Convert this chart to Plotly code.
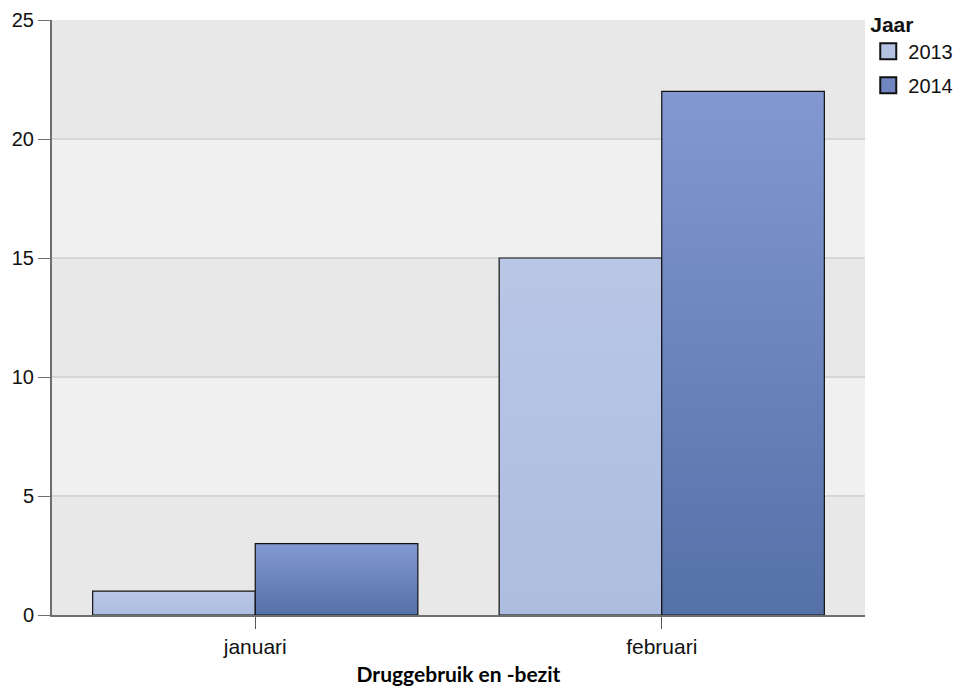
import plotly.graph_objects as go

categories = ["januari", "februari"]
years = ["2013", "2014"]
values_2013 = [1, 15]
values_2014 = [3, 22]
y_ticks = [0, 5, 10, 15, 20, 25]

series = {"2013": values_2013, "2014": values_2014}
grad = {
    "2013": ("#adbde0", "#b9c6e6", "#b3c1e3"),
    "2014": ("#5471a8", "#8398d1", "#6f86c0"),
}
bar_w = 0.4
offsets = {"2013": -bar_w, "2014": 0.0}

fig = go.Figure()

for yr in years:
    bottom, top, mid = grad[yr]
    for i, v in enumerate(series[yr]):
        x0 = i + offsets[yr]
        x1 = x0 + bar_w
        fig.add_trace(go.Scatter(
            x=[x0, x0, x1, x1, x0], y=[0, v, v, 0, 0],
            mode="lines", fill="toself",
            line=dict(color="#111111", width=1.2),
            fillgradient=dict(type="vertical",
                              colorscale=[[0, bottom], [1, top]]),
            showlegend=False, hoverinfo="skip", legendgroup=yr,
        ))
    fig.add_trace(go.Scatter(
        x=[None], y=[None], mode="markers", name=yr, legendgroup=yr,
        marker=dict(symbol="square", size=16, color=mid,
                    line=dict(color="#111111", width=2)),
    ))

# alternating background bands
for lo, hi in [(5, 10), (15, 20)]:
    fig.add_shape(type="rect", xref="paper", yref="y", x0=0, x1=1, y0=lo, y1=hi,
                  fillcolor="#f0f0f0", line=dict(width=0), layer="below")

fig.update_layout(
    width=955, height=680,
    margin=dict(l=44, r=98, t=12, b=73, autoexpand=False),
    paper_bgcolor="white", plot_bgcolor="#e8e8e8",
    font=dict(family="Liberation Sans, Arial, sans-serif", size=20, color="#111111"),
    legend=dict(
        title=dict(text="<b>Jaar</b>", font=dict(size=21)),
        x=1.004, xanchor="left", y=1.026, yanchor="top",
        bgcolor="rgba(0,0,0,0)", font=dict(size=20),
        itemwidth=30, tracegroupgap=5, traceorder="grouped",
    ),
    xaxis=dict(
        range=[-0.5, 1.5], tickmode="array",
        tickvals=list(range(len(categories))), ticktext=categories,
        tickfont=dict(size=21),
        showgrid=False, zeroline=False,
        showline=True, linecolor="#6e6e6e", linewidth=2,
        ticks="outside", ticklen=12, tickcolor="#555555", tickwidth=1,
        title=dict(text="<b>Druggebruik en -bezit</b>",
                   font=dict(family="Lato, sans-serif", size=21, color="black"),
                   standoff=10),
    ),
    yaxis=dict(
        range=[0, 25], tickvals=y_ticks,
        showgrid=True, gridcolor="#d6d6d6", gridwidth=2,
        zeroline=False,
        showline=True, linecolor="#6e6e6e", linewidth=2,
        ticks="outside", ticklen=12, tickcolor="#6e6e6e", tickwidth=1,
    ),
)

fig.write_html("out.html")
